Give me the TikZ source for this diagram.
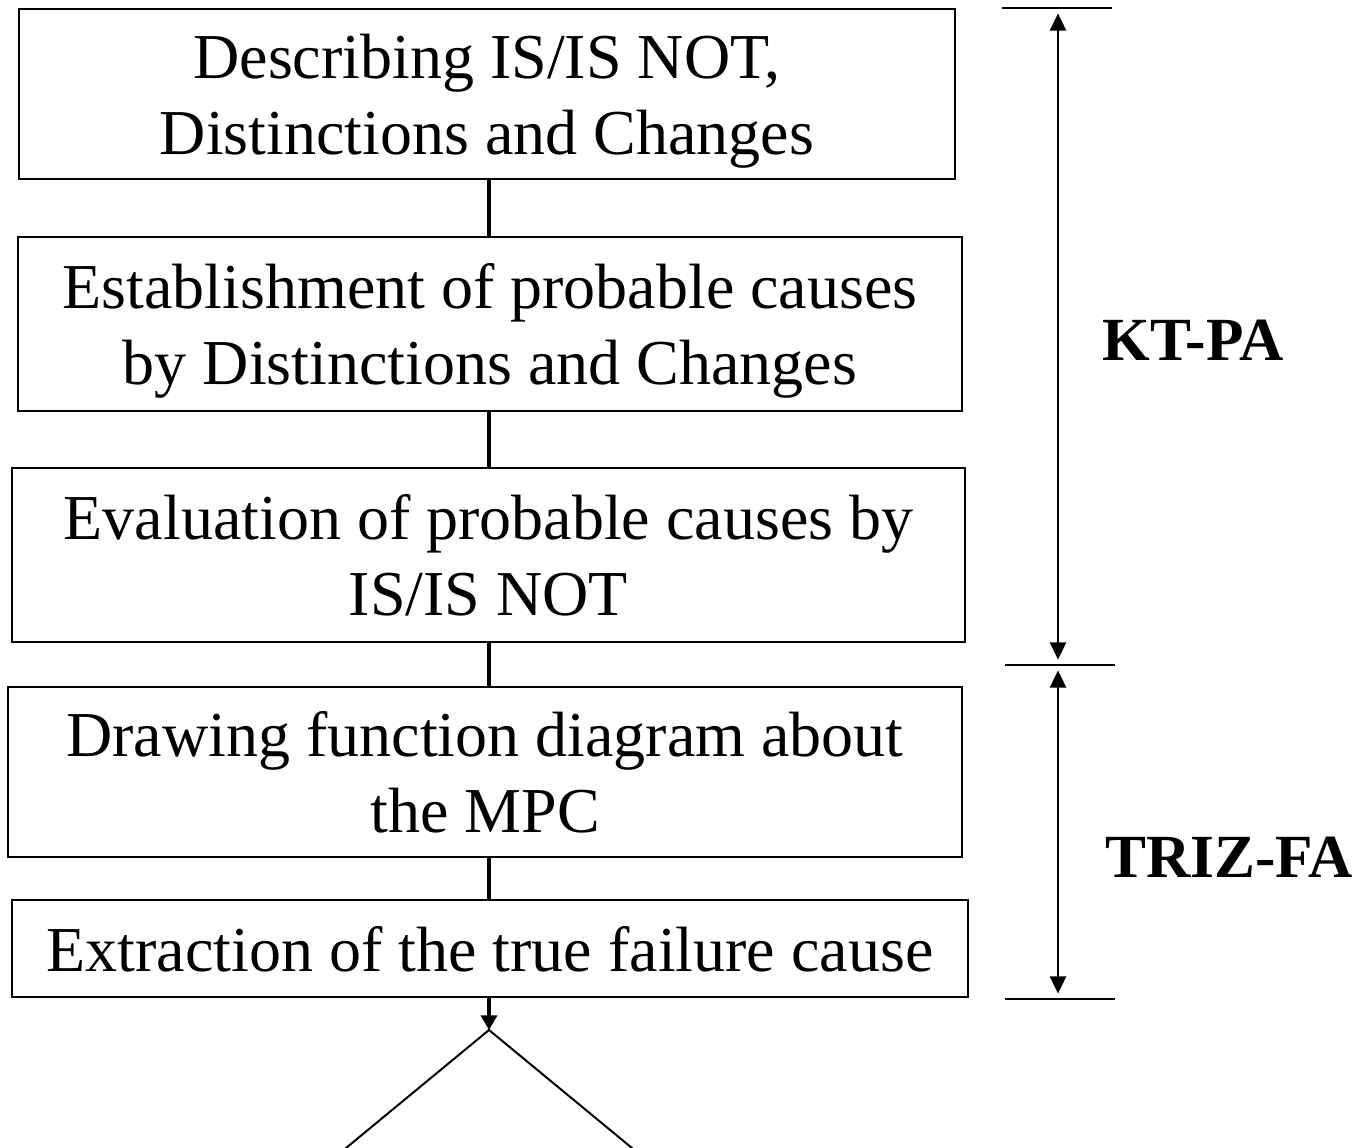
\documentclass[tikz,border=0pt]{standalone}
\usepackage{fontspec}
\setmainfont{Liberation Serif}
\usetikzlibrary{arrows.meta}
\newcommand\mytop{\rule{0pt}{46pt}}
\newcommand\mybot{\rule[-12pt]{0pt}{12pt}}
\begin{document}
\begin{tikzpicture}[x=0.75pt,y=-0.75pt,
  stepbox/.style={draw,line width=1.5pt,align=center,inner sep=0pt,
    font=\fontsize{48}{57}\selectfont},
  conn/.style={line width=2.6pt},
  bracket/.style={line width=1.5pt},
  dim/.style={line width=2pt,{Triangle[width=12pt,length=13pt]}-{Triangle[width=12pt,length=13pt]},shorten <=4pt,shorten >=4pt},
  lbl/.style={font=\bfseries\fontsize{46}{56}\selectfont}]
\useasboundingbox (0,0) rectangle (1360,1148);
\clip (0,0) rectangle (1360,1148);
\node[stepbox,minimum width=936*0.75pt,minimum height=170*0.75pt] (b1) at (487,94)
  {\mytop Describing IS/IS NOT,\\Distinctions and Changes\mybot};
\node[stepbox,minimum width=944*0.75pt,minimum height=174*0.75pt] (b2) at (490,324)
  {\mytop Establishment of probable causes\\by Distinctions and Changes\mybot};
\node[stepbox,minimum width=953*0.75pt,minimum height=174*0.75pt] (b3) at (488.5,555)
  {\mytop Evaluation of probable causes by\\IS/IS NOT\mybot};
\node[stepbox,minimum width=954*0.75pt,minimum height=170*0.75pt] (b4) at (485,772)
  {\mytop Drawing function diagram about\\the MPC\mybot};
\node[stepbox,minimum width=956*0.75pt,minimum height=97*0.75pt] (b5) at (490,948.5)
  {\mytop Extraction of the true failure cause\mybot};
\coordinate (apex) at (489,1030);
\draw[conn] (b1.south -| apex) -- (b2.north -| apex);
\draw[conn] (b2.south -| apex) -- (b3.north -| apex);
\draw[conn] (b3.south -| apex) -- (b4.north -| apex);
\draw[conn] (b4.south -| apex) -- (b5.north -| apex);
\draw[conn,-{Triangle[width=12pt,length=11pt]}] (b5.south -| apex) -- (apex);
\draw[line width=1.5pt] (apex) -- ++(-300,247.6) -- ++(300,247.6) -- ++(300,-247.6) -- cycle;
% right brackets
\coordinate (t1) at (1002,8); \coordinate (t2) at (1112,8);
\coordinate (m1) at (1005,665); \coordinate (m2) at (1115,665);
\coordinate (u1) at (1005,999); \coordinate (u2) at (1115,999);
\coordinate (ax) at (1058,0);
\draw[bracket] (t1) -- (t2);
\draw[bracket] (m1) -- (m2);
\draw[bracket] (u1) -- (u2);
\draw[dim] (t1 -| ax) -- (m1 -| ax);
\draw[dim] (m1 -| ax) -- (u1 -| ax);
\node[lbl] (kt) at (1193,340) {KT-PA};
\node[lbl] (tz) at (1229,857) {TRIZ-FA};
\end{tikzpicture}
\end{document}
